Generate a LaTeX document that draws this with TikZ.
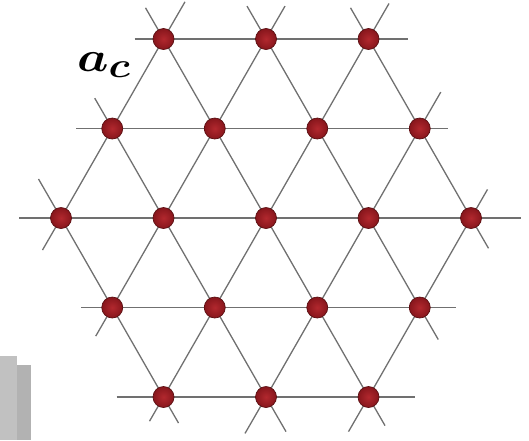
\documentclass[tikz,border=0pt]{standalone}
\usetikzlibrary{calc,backgrounds}
\definecolor{linegray}{RGB}{112,112,112}
\definecolor{siteborder}{RGB}{90,15,18}
\definecolor{siteinner}{RGB}{178,40,46}
\definecolor{siteouter}{RGB}{135,22,28}
\definecolor{boxA}{RGB}{193,193,193}
\definecolor{boxB}{RGB}{178,178,178}
\tikzset{
  site/.style={circle,minimum size=21pt,inner sep=0pt,draw=siteborder,line width=0.7pt,
    inner color=siteinner,outer color=siteouter},
  latline/.style={draw=linegray,line width=1.3pt},
}
\begin{document}
\begin{tikzpicture}[x=1pt,y=-1pt]
\useasboundingbox (0,0) rectangle (529,440);
% grey boxes at bottom left
\fill[boxA] (0,356) rectangle (17,440);
\fill[boxB] (17,365) rectangle (31,440);
% lattice sites
\node[site] (n00) at (163.5,39) {};
\node[site] (n01) at (266,39) {};
\node[site] (n02) at (368.5,39) {};
\node[site] (n10) at (112.25,128.5) {};
\node[site] (n11) at (214.75,128.5) {};
\node[site] (n12) at (317.25,128.5) {};
\node[site] (n13) at (419.75,128.5) {};
\node[site] (n20) at (61,218) {};
\node[site] (n21) at (163.5,218) {};
\node[site] (n22) at (266,218) {};
\node[site] (n23) at (368.5,218) {};
\node[site] (n24) at (471,218) {};
\node[site] (n30) at (112.25,307.5) {};
\node[site] (n31) at (214.75,307.5) {};
\node[site] (n32) at (317.25,307.5) {};
\node[site] (n33) at (419.75,307.5) {};
\node[site] (n40) at (163.5,397) {};
\node[site] (n41) at (266,397) {};
\node[site] (n42) at (368.5,397) {};
% label
\node[anchor=base west,inner sep=0pt] (lbl) at (77,71) {\scalebox{2.0}[1.7]{\Huge\boldmath$a_c$}};
% free ends of the lines
\coordinate (s00W) at ($(n00)+(-29,0)$);
\coordinate (s00NE) at ($(n00)+(21.5,-37.2)$);
\coordinate (s00NW) at ($(n00)+(-18,-31.2)$);
\coordinate (s01NE) at ($(n01)+(19,-32.9)$);
\coordinate (s01NW) at ($(n01)+(-19,-32.9)$);
\coordinate (s02NE) at ($(n02)+(20.5,-35.5)$);
\coordinate (s02NW) at ($(n02)+(-18,-31.2)$);
\coordinate (s02E) at ($(n02)+(39,0)$);
\coordinate (s10W) at ($(n10)+(-36,0)$);
\coordinate (s10NW) at ($(n10)+(-17.5,-30.3)$);
\coordinate (s13E) at ($(n13)+(28,0)$);
\coordinate (s13NE) at ($(n13)+(21,-36.4)$);
\coordinate (s20W) at ($(n20)+(-42,0)$);
\coordinate (s20NW) at ($(n20)+(-22.5,-39)$);
\coordinate (s20SW) at ($(n20)+(-18.5,32)$);
\coordinate (s24E) at ($(n24)+(50,0)$);
\coordinate (s24NE) at ($(n24)+(16.5,-28.6)$);
\coordinate (s24SE) at ($(n24)+(17.5,30.3)$);
\coordinate (s30W) at ($(n30)+(-31,0)$);
\coordinate (s30SW) at ($(n30)+(-16.5,28.6)$);
\coordinate (s33E) at ($(n33)+(36,0)$);
\coordinate (s33SE) at ($(n33)+(18.5,32)$);
\coordinate (s40W) at ($(n40)+(-47,0)$);
\coordinate (s40SW) at ($(n40)+(-14,24.2)$);
\coordinate (s40SE) at ($(n40)+(15,26)$);
\coordinate (s41SW) at ($(n41)+(-21,36.4)$);
\coordinate (s41SE) at ($(n41)+(20,34.6)$);
\coordinate (s42SW) at ($(n42)+(-20,34.6)$);
\coordinate (s42SE) at ($(n42)+(16.5,28.6)$);
\coordinate (s42E) at ($(n42)+(46,0)$);
\begin{pgfonlayer}{background}
% horizontal lines
\draw[latline] (s00W) -- (n00.center) -- (n01.center) -- (n02.center) -- (s02E);
\draw[latline] (s10W) -- (n10.center) -- (n11.center) -- (n12.center) -- (n13.center) -- (s13E);
\draw[latline] (s20W) -- (n20.center) -- (n21.center) -- (n22.center) -- (n23.center) -- (n24.center) -- (s24E);
\draw[latline] (s30W) -- (n30.center) -- (n31.center) -- (n32.center) -- (n33.center) -- (s33E);
\draw[latline] (s40W) -- (n40.center) -- (n41.center) -- (n42.center) -- (s42E);
% lines rising to the right
\draw[latline] (s20SW) -- (n20.center) -- (n10.center) -- (n00.center) -- (s00NE);
\draw[latline] (s30SW) -- (n30.center) -- (n21.center) -- (n11.center) -- (n01.center) -- (s01NE);
\draw[latline] (s40SW) -- (n40.center) -- (n31.center) -- (n22.center) -- (n12.center) -- (n02.center) -- (s02NE);
\draw[latline] (s41SW) -- (n41.center) -- (n32.center) -- (n23.center) -- (n13.center) -- (s13NE);
\draw[latline] (s42SW) -- (n42.center) -- (n33.center) -- (n24.center) -- (s24NE);
% lines rising to the left
\draw[latline] (s24SE) -- (n24.center) -- (n13.center) -- (n02.center) -- (s02NW);
\draw[latline] (s33SE) -- (n33.center) -- (n23.center) -- (n12.center) -- (n01.center) -- (s01NW);
\draw[latline] (s42SE) -- (n42.center) -- (n32.center) -- (n22.center) -- (n11.center) -- (n00.center) -- (s00NW);
\draw[latline] (s41SE) -- (n41.center) -- (n31.center) -- (n21.center) -- (n10.center) -- (s10NW);
\draw[latline] (s40SE) -- (n40.center) -- (n30.center) -- (n20.center) -- (s20NW);
\end{pgfonlayer}
\end{tikzpicture}
\end{document}
